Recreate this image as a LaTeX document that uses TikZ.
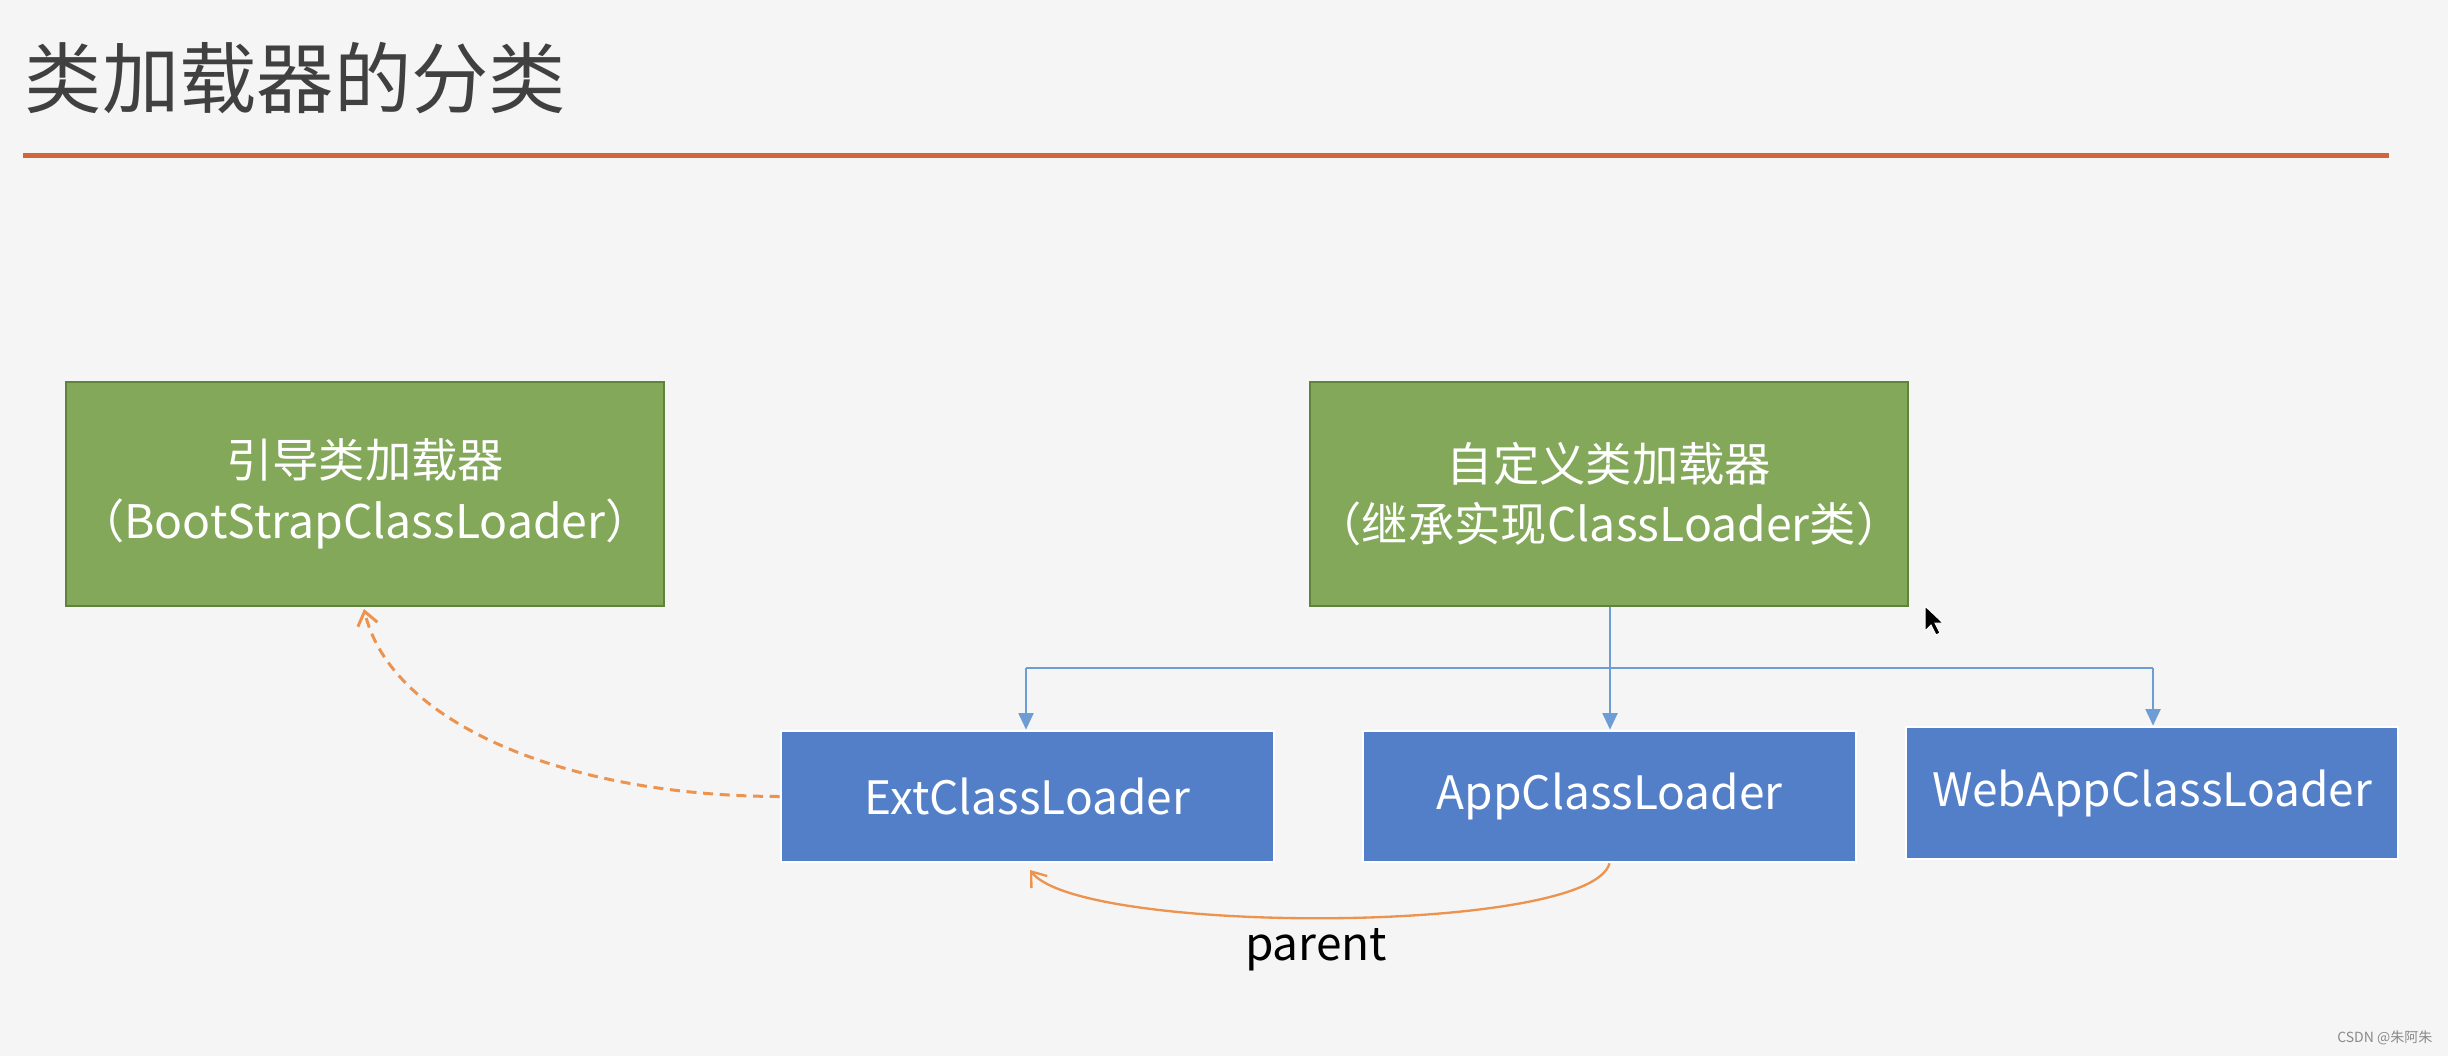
\documentclass[tikz,border=0pt]{standalone}
\usepackage{fontspec}
\setmainfont{Noto Sans CJK SC}
\usetikzlibrary{arrows.meta}
\definecolor{bg}{HTML}{F5F5F5}
\definecolor{titlec}{HTML}{404040}
\definecolor{rulec}{HTML}{D0663A}
\definecolor{greenf}{HTML}{83A85A}
\definecolor{greend}{HTML}{5F823C}
\definecolor{bluef}{HTML}{527FC8}
\definecolor{bluel}{HTML}{6E9DD6}
\definecolor{orangel}{HTML}{EC9350}
\definecolor{wm}{HTML}{8A8A8A}
\tikzset{
  greenbox/.style={draw=greend, line width=0.6pt, fill=greenf, text=white, inner sep=0pt,
    minimum width=179.4pt, minimum height=67.2pt, align=center,
    font=\fontsize{13.9pt}{18.2pt}\selectfont},
  bluebox/.style={draw=white, line width=0.8pt, fill=bluef, text=white, inner sep=0pt,
    minimum width=147.9pt, minimum height=39.3pt, align=center,
    font=\fontsize{13.8pt}{16pt}\selectfont},
  blueconn/.style={draw=bluel, line width=0.7pt},
  bluearrow/.style={blueconn, -{Triangle[length=5pt,width=4.5pt]}},
  orangedash/.style={draw=orangel, line width=0.9pt, dashed, dash pattern=on 3pt off 2pt, -{Straight Barb[length=4pt,width=6pt]}},
  orangesolid/.style={draw=orangel, line width=0.7pt, -{Straight Barb[length=4pt,width=6pt]}},
}
\begin{document}
\begin{tikzpicture}[x=0.3pt, y=-0.3pt]
  \fill[bg] (0,0) rectangle (2448,1056);
  \useasboundingbox (0,0) rectangle (2448,1056);
  % title
  \node[anchor=west, inner sep=0pt, text=titlec, font=\fontsize{23.2pt}{26pt}\selectfont] (title) at (24,78) {类加载器的分类};
  \draw[rulec, line width=1.5pt] (23,155) -- (2389,155);
  % boxes
  \node[greenbox] (boot) at (365,494) {引导类加载器\\（BootStrapClassLoader）};
  \node[greenbox] (custom) at (1609,494) {自定义类加载器\\（继承实现ClassLoader类）};
  \node[bluebox] (ext) at (1027.5,796.5) {ExtClassLoader};
  \node[bluebox] (app) at (1609.5,796.5) {AppClassLoader};
  \node[bluebox, minimum width=147.6pt, minimum height=39.6pt] (web) at (2152,793) {WebAppClassLoader};
  % blue tree connectors
  \coordinate (j) at (1610,668);
  \coordinate (jl) at (1026,668);
  \coordinate (jr) at (2153,668);
  \draw[blueconn] (custom.south -| j) -- (j);
  \draw[blueconn] (jl) -- (jr);
  \draw[bluearrow] (jl) -- (jl |- ext.north);
  \draw[bluearrow] (j) -- (j |- app.north);
  \draw[bluearrow] (jr) -- (jr |- web.north);
  % orange dashed curve
  \draw[orangedash] (ext.west) .. controls (560,796) and (390,720) .. (364,609);
  % parent curve
  \draw[orangesolid] (app.south) .. controls (1590,935) and (1080,935) .. (1030,870);
  \node[font=\fontsize{13.8pt}{16pt}\selectfont, text=black] (parent) at (1316,950) {parent};
  % mouse cursor
  \filldraw[fill=black, draw=white, line width=0.3pt] (1925,606) -- (1925,631) -- (1931,625) -- (1936,635) -- (1940,633) -- (1935,623) -- (1943,623) -- cycle;
  % watermark
  \node[anchor=east, inner sep=0pt, text=wm, font=\fontsize{4.2pt}{5pt}\selectfont] (wmk) at (2433,1038) {CSDN @朱阿朱};
\end{tikzpicture}
\end{document}
